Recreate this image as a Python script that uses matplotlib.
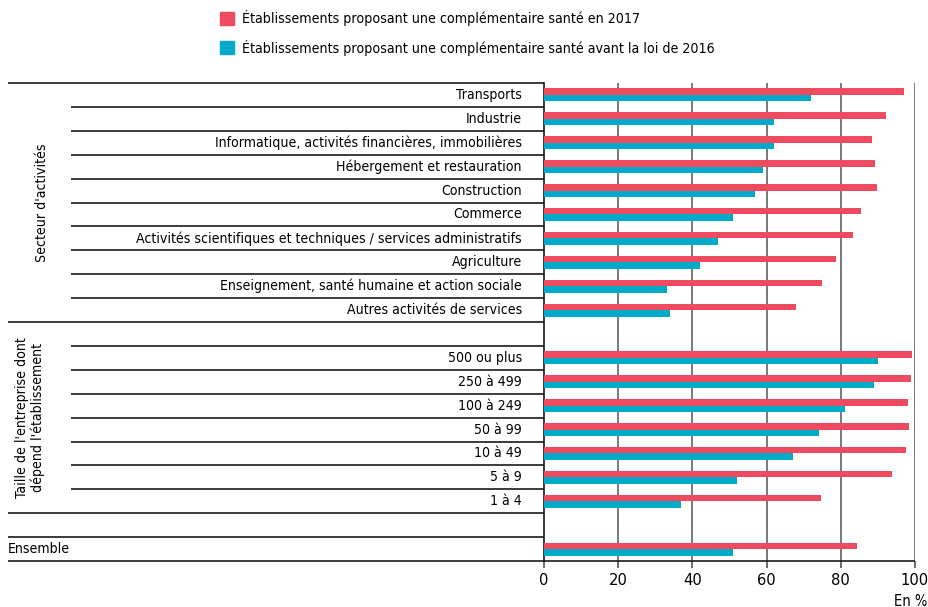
import matplotlib
matplotlib.use("Agg")
import matplotlib.pyplot as plt
import matplotlib.font_manager as fm
from matplotlib.transforms import blended_transform_factory
from matplotlib.patches import Rectangle

# ---------------- data ----------------
sectors = ["Transports", "Industrie",
           "Informatique, activités financières, immobilières",
           "Hébergement et restauration", "Construction", "Commerce",
           "Activités scientifiques et techniques / services administratifs",
           "Agriculture", "Enseignement, santé humaine et action sociale",
           "Autres activités de services"]
sector_2017 = [97.0, 92.1, 88.5, 89.1, 89.8, 85.4, 83.4, 78.6, 74.8, 67.9]
sector_before = [72.0, 62.1, 61.9, 58.9, 57.0, 50.9, 47.0, 42.0, 33.1, 34.0]

sizes = ["500 ou plus", "250 à 499", "100 à 249", "50 à 99", "10 à 49", "5 à 9", "1 à 4"]
size_2017 = [99.3, 99.0, 98.1, 98.3, 97.5, 93.9, 74.7]
size_before = [89.9, 89.0, 81.0, 74.0, 67.2, 51.9, 37.0]

total_label = "Ensemble"
total_2017 = 84.3
total_before = 50.9

series_names = ["Établissements proposant une complémentaire santé en 2017",
                "Établissements proposant une complémentaire santé avant la loi de 2016"]
group_labels = ["Secteur d'activités", "Taille de l'entreprise dont\ndépend l'établissement"]
xticks = [0, 20, 40, 60, 80, 100]
unit_label = "En %"

RED = "#EF4B60"
BLUE = "#00AAC8"
LINE = "#1a1a1a"

# ---------------- font ----------------
names = [(f.name, str(f.stretch)) for f in fm.fontManager.ttflist]
FONT, STRETCH = "DejaVu Sans", "normal"
if any(n == "Liberation Sans Narrow" for n, _ in names):
    FONT = "Liberation Sans Narrow"
elif any(n == "DejaVu Sans" and "condensed" in s for n, s in names):
    FONT, STRETCH = "DejaVu Sans", "condensed"
plt.rcParams["font.family"] = [FONT, "DejaVu Sans"]
plt.rcParams["font.stretch"] = STRETCH

W, H = 929, 607
fig = plt.figure(figsize=(W / 100, H / 100), dpi=100)
ax = fig.add_axes([544 / W, 1 - 561 / H, (915 - 544) / W, (561 - 83) / H])

# rows: 0-9 sectors, 10 empty, 11-17 sizes, 18 empty, 19 total
labels = sectors + [None] + sizes + [None] + [total_label]
v17 = sector_2017 + [None] + size_2017 + [None] + [total_2017]
vbf = sector_before + [None] + size_before + [None] + [total_before]
nrows = len(labels)

bh = 0.27
for i, (a, b) in enumerate(zip(v17, vbf)):
    if a is None:
        continue
    ax.barh(i + 0.365, a, height=bh, color=RED, zorder=3)
    ax.barh(i + 0.635, b, height=bh, color=BLUE, zorder=3)

ax.set_xlim(0, 100)
ax.set_ylim(nrows, 0)
ax.set_xticks(xticks)
ax.set_yticks([])
for x in xticks[1:]:
    ax.axvline(x, color="#555555", lw=1.1, zorder=1)
for s in ["top", "right", "bottom"]:
    ax.spines[s].set_visible(False)
ax.spines["left"].set_color(LINE)
ax.spines["left"].set_linewidth(1.2)
ax.tick_params(axis="x", length=5, width=1.1, color="#444444", pad=3.5, labelsize=12.5)

fig.canvas.draw()
r = fig.canvas.get_renderer()

def fit(t, target):
    w = t.get_window_extent(renderer=r).width
    t.set_fontsize(t.get_fontsize() * target / w)

tr = blended_transform_factory(fig.transFigure, ax.transData)

# category labels
label_texts = []
for i, lab in enumerate(labels):
    if lab is None or lab == total_label:
        continue
    t = ax.text(522 / W, i + 0.5, lab, transform=tr, ha="right", va="center", fontsize=12)
    label_texts.append(t)
longest = max(label_texts, key=lambda t: t.get_window_extent(renderer=r).width)
w0 = longest.get_window_extent(renderer=r).width
fs = 12 * 382 / w0
for t in label_texts:
    t.set_fontsize(fs)
ax.text(8 / W, nrows - 0.5, total_label, transform=tr, ha="left", va="center", fontsize=fs)

ax.text(42 / W, 5, group_labels[0], transform=tr, rotation=90, ha="center", va="center", fontsize=fs)
ax.text(30 / W, 14, group_labels[1], transform=tr, rotation=90, ha="center", va="center",
        fontsize=fs, multialignment="center", linespacing=1.1)

for t in ax.get_xticklabels():
    t.set_fontsize(fs * 1.17)

# separator lines
def hline(y, x0, x1=544):
    ax.plot([x0 / W, x1 / W], [y, y], transform=tr, color=LINE, lw=1.2,
            clip_on=False, zorder=4, solid_capstyle="butt")

for y in range(0, nrows + 1):
    if y in (0, 10, 18, 19):
        hline(y, 8)
    elif y == nrows:
        hline(y, 8, 915)
    else:
        hline(y, 71)

# legend
fig.patches.append(Rectangle((220 / W, 1 - 25 / H), 14 / W, 13 / H, transform=fig.transFigure,
                             color=RED, figure=fig))
fig.patches.append(Rectangle((220 / W, 1 - 54 / H), 14 / W, 13 / H, transform=fig.transFigure,
                             color=BLUE, figure=fig))
l1 = fig.text(242 / W, 1 - 18.5 / H, series_names[0], ha="left", va="center", fontsize=12)
l2 = fig.text(242 / W, 1 - 47.5 / H, series_names[1], ha="left", va="center", fontsize=12)
fit(l2, 472)
l1.set_fontsize(l2.get_fontsize())

fig.text(927 / W, 1 - 601 / H, unit_label, ha="right", va="center", fontsize=fs * 1.05)

fig.savefig("out.png", dpi=100)
